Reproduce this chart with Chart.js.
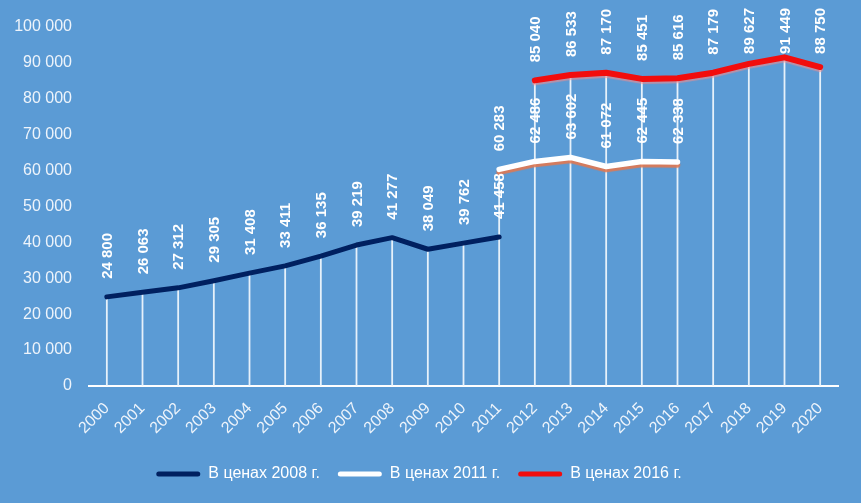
<!DOCTYPE html>
<html>
<head>
<meta charset="utf-8">
<script src="https://cdn.jsdelivr.net/npm/chart.js@4.4.1/dist/chart.umd.min.js"></script>
<style>
  html, body { margin: 0; padding: 0; background: #5b9bd5; }
  #wrap { width: 861px; height: 503px; position: relative; }
</style>
</head>
<body>
<div id="wrap"><canvas id="c" width="861" height="503"></canvas></div>
<script>
const years = ['2000','2001','2002','2003','2004','2005','2006','2007','2008','2009','2010','2011','2012','2013','2014','2015','2016','2017','2018','2019','2020'];
const prices2008 = [24800, 26063, 27312, 29305, 31408, 33411, 36135, 39219, 41277, 38049, 39762, 41458, null, null, null, null, null, null, null, null, null];
const prices2011 = [null, null, null, null, null, null, null, null, null, null, null, 60283, 62486, 63602, 61072, 62445, 62338, null, null, null, null];
const prices2016 = [null, null, null, null, null, null, null, null, null, null, null, null, 85040, 86533, 87170, 85451, 85616, 87179, 89627, 91449, 88750];
const seriesNames = ['В ценах 2008 г.', 'В ценах 2011 г.', 'В ценах 2016 г.'];
const yTicks = [0, 10000, 20000, 30000, 40000, 50000, 60000, 70000, 80000, 90000, 100000];

const fmt = v => String(v).replace(/\B(?=(\d{3})+(?!\d))/g, ' ');
const FONT = '"Liberation Sans", Arial, sans-serif';

const dropLines = {
  id: 'dropLines',
  beforeDatasetsDraw(chart) {
    const ctx = chart.ctx, xs = chart.scales.x, ys = chart.scales.y;
    ctx.save();
    ctx.strokeStyle = 'rgba(238,245,252,0.95)';
    ctx.lineWidth = 1.8;
    years.forEach((y, i) => {
      let m = null;
      chart.data.datasets.forEach(ds => {
        const v = ds.data[i];
        if (v != null && (m == null || v > m)) m = v;
      });
      if (m == null) return;
      const x = xs.getPixelForValue(i);
      ctx.beginPath();
      ctx.moveTo(x, ys.getPixelForValue(0));
      ctx.lineTo(x, ys.getPixelForValue(m));
      ctx.stroke();
    });
    ctx.restore();
  }
};

const shadows = {
  id: 'shadows',
  beforeDatasetDraw(chart, args) {
    const ds = chart.data.datasets[args.index];
    if (ds.shadowColor) {
      chart.ctx.save();
      chart.ctx.shadowColor = ds.shadowColor;
      chart.ctx.shadowOffsetY = ds.shadowOffsetY || 2;
      chart.ctx.shadowBlur = 1;
    }
  },
  afterDatasetDraw(chart, args) {
    const ds = chart.data.datasets[args.index];
    if (ds.shadowColor) chart.ctx.restore();
  }
};

const valueLabels = {
  id: 'valueLabels',
  afterDatasetsDraw(chart) {
    const ctx = chart.ctx;
    ctx.save();
    ctx.font = 'bold 15px ' + FONT;
    ctx.fillStyle = '#ffffff';
    ctx.textAlign = 'left';
    ctx.textBaseline = 'middle';
    chart.data.datasets.forEach((ds, di) => {
      const meta = chart.getDatasetMeta(di);
      meta.data.forEach((pt, i) => {
        const v = ds.data[i];
        if (v == null) return;
        const t = fmt(v);
        const w = ctx.measureText(t).width;
        let start = pt.y - 18;
        if (start - w < 8) start = 8 + w;
        ctx.save();
        ctx.translate(pt.x + 1, start);
        ctx.rotate(-Math.PI / 2);
        ctx.fillText(t, 0, 0);
        ctx.restore();
      });
    });
    ctx.restore();
  }
};

const mk = (label, data, color, width, shadow, off) => ({
  label, data, borderColor: color, backgroundColor: color, borderWidth: width,
  pointRadius: 0, pointHoverRadius: 0, tension: 0, spanGaps: false,
  borderCapStyle: 'round', borderJoinStyle: 'round',
  shadowColor: shadow, shadowOffsetY: off
});

new Chart(document.getElementById('c'), {
  type: 'line',
  data: {
    labels: years,
    datasets: [
      mk(seriesNames[0], prices2008, '#002060', 5, null, 0),
      mk(seriesNames[1], prices2011, '#ffffff', 5.5, 'rgba(226,120,80,0.9)', 3),
      mk(seriesNames[2], prices2016, '#f20d0d', 6, 'rgba(245,140,140,0.6)', 2)
    ]
  },
  plugins: [dropLines, shadows, valueLabels],
  options: {
    responsive: false,
    animation: false,
    events: [],
    layout: { padding: { left: 0, right: 23, top: 17, bottom: 11 } },
    scales: {
      x: {
        offset: true,
        grid: { display: false, drawTicks: false },
        border: { display: true, color: '#ffffff', width: 2 },
        ticks: {
          color: '#eef4fb', font: { family: FONT, size: 16 },
          maxRotation: 45, minRotation: 45, padding: 13, autoSkip: false
        },
        afterFit(s) { s.height = 62; }
      },
      y: {
        min: 0, max: 100000,
        grid: { display: false, drawTicks: false },
        border: { display: false },
        afterBuildTicks(s) { s.ticks = yTicks.map(v => ({ value: v })); },
        ticks: {
          color: '#eef4fb', font: { family: FONT, size: 16 }, padding: 17,
          callback: v => fmt(v)
        },
        afterFit(s) { s.width = 89; }
      }
    },
    plugins: {
      tooltip: { enabled: false },
      legend: {
        position: 'bottom',
        labels: {
          color: '#ffffff', font: { family: FONT, size: 16 },
          boxWidth: 44, boxHeight: 5, padding: 18,
          useBorderRadius: true, borderRadius: 2.5,
          generateLabels(chart) {
            return chart.data.datasets.map((ds, i) => ({
              text: ds.label, fillStyle: ds.borderColor, strokeStyle: ds.borderColor,
              lineWidth: 0, fontColor: '#ffffff', datasetIndex: i, hidden: false,
              borderRadius: 2.5
            }));
          }
        }
      }
    }
  }
});
</script>
</body>
</html>
